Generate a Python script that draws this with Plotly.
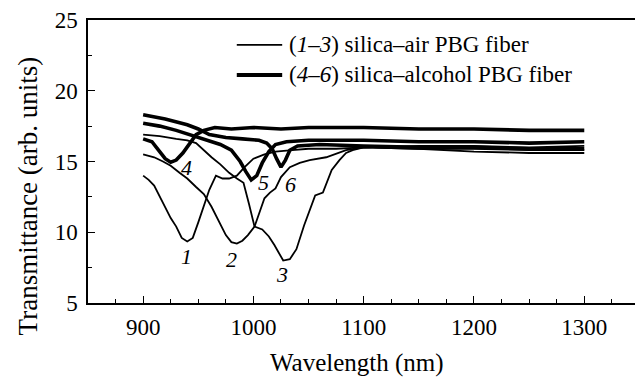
import plotly.graph_objects as go

# ---- data ----
c1_x = [900, 905, 910, 915, 920, 925, 930, 935, 940, 945, 950, 955, 960, 966, 972, 978, 985, 992, 1000, 1010, 1020, 1035, 1050, 1075, 1100, 1150, 1200, 1250, 1300]
c1_y = [14.0, 13.7, 13.3, 12.5, 11.8, 11.0, 10.4, 9.6, 9.35, 9.6, 10.7, 11.9, 13.0, 14.0, 13.8, 13.8, 14.0, 14.6, 15.2, 15.5, 15.7, 15.8, 15.9, 15.9, 16.0, 15.9, 15.9, 15.8, 15.8]

c2_x = [900, 910, 918, 925, 933, 940, 948, 955, 962, 968, 975, 980, 985, 990, 995, 1001, 1006, 1010, 1015, 1020, 1025, 1033, 1042, 1051, 1066, 1084, 1100, 1150, 1200, 1250, 1300]
c2_y = [15.5, 15.3, 15.0, 14.7, 14.2, 13.8, 13.2, 12.7, 11.8, 10.9, 9.8, 9.3, 9.2, 9.4, 9.8, 10.4, 11.6, 12.4, 12.8, 13.1, 13.9, 14.6, 14.9, 15.1, 15.3, 15.8, 16.0, 16.1, 16.1, 16.0, 16.1]

c3_x = [900, 915, 930, 940, 948, 955, 962, 970, 978, 985, 991, 996, 1001, 1008, 1014, 1019, 1023, 1027, 1033, 1039, 1046, 1051, 1056, 1063, 1071, 1078, 1084, 1090, 1100, 1150, 1200, 1250, 1300]
c3_y = [16.9, 16.8, 16.6, 16.5, 16.3, 15.8, 15.3, 14.8, 14.2, 13.8, 13.5, 12.0, 10.4, 10.2, 9.7, 9.1, 8.5, 8.0, 8.1, 8.8, 10.5, 11.5, 12.6, 12.8, 14.4, 15.1, 15.6, 15.8, 16.0, 15.9, 15.7, 15.6, 15.6]

c4_x = [900, 908, 915, 920, 925, 930, 936, 942, 948, 955, 965, 980, 1000, 1025, 1050, 1100, 1150, 1200, 1250, 1300]
c4_y = [16.6, 16.4, 15.7, 15.2, 14.95, 15.1, 15.6, 16.3, 16.9, 17.2, 17.4, 17.3, 17.4, 17.3, 17.4, 17.4, 17.3, 17.3, 17.2, 17.2]

c5_x = [900, 915, 930, 945, 958, 970, 980, 988, 993, 998, 1003, 1008, 1014, 1020, 1030, 1050, 1100, 1150, 1200, 1250, 1300]
c5_y = [17.7, 17.5, 17.2, 16.8, 16.5, 16.2, 15.8, 15.0, 14.3, 13.7, 14.0, 14.9, 15.7, 16.2, 16.4, 16.5, 16.5, 16.4, 16.4, 16.3, 16.4]

c6_x = [900, 920, 940, 950, 960, 975, 990, 1005, 1012, 1017, 1021, 1025, 1029, 1033, 1040, 1060, 1100, 1150, 1200, 1250, 1300]
c6_y = [18.3, 18.0, 17.6, 17.3, 16.9, 16.7, 16.6, 16.5, 16.3, 15.9, 15.2, 14.6, 15.1, 15.8, 16.1, 16.2, 16.1, 16.0, 16.0, 15.9, 15.9]

curve_labels = ["1", "2", "3", "4", "5", "6"]
label_x = [939.6, 980.4, 1025.7, 939.6, 1009.4, 1033.9]
label_y = [8.32, 8.04, 6.98, 14.6, 13.5, 13.4]

legend_names = ["(<i>1–3</i>) silica–air PBG fiber", "(<i>4–6</i>) silica–alcohol PBG fiber"]

x_ticks = [900, 1000, 1100, 1200, 1300]
y_ticks = [5, 10, 15, 20, 25]

FONT = "Times New Roman, Liberation Serif, serif"

fig = go.Figure()
thin = [(c1_x, c1_y), (c2_x, c2_y), (c3_x, c3_y)]
thick = [(c4_x, c4_y), (c5_x, c5_y), (c6_x, c6_y)]
for xs, ys in thin:
    fig.add_trace(go.Scatter(x=xs, y=ys, mode="lines", line=dict(color="black", width=1.8),
                             name=legend_names[0], showlegend=False))
for xs, ys in thick:
    fig.add_trace(go.Scatter(x=xs, y=ys, mode="lines", line=dict(color="black", width=3.6),
                             name=legend_names[1], showlegend=False))

for t, lx, ly in zip(curve_labels, label_x, label_y):
    fig.add_annotation(x=lx, y=ly, text=f"<i>{t}</i>", showarrow=False,
                       font=dict(family=FONT, size=22, color="black"))

# legend (key lines + labels), placed in paper coordinates
key_y = [0.912, 0.806]
key_w = [1.8, 4.0]
for name, ky, kw in zip(legend_names, key_y, key_w):
    fig.add_shape(type="line", xref="paper", yref="paper", x0=0.272, x1=0.355, y0=ky, y1=ky,
                  line=dict(color="black", width=kw))
    fig.add_annotation(xref="paper", yref="paper", x=0.366, y=ky, text=name, showarrow=False,
                       xanchor="left", yanchor="middle", borderpad=0,
                       font=dict(family=FONT, size=23, color="black"))

# axis titles
fig.add_annotation(xref="paper", yref="paper", x=-0.108, y=0.38, text="Transmittance (arb. units)",
                   textangle=-90, showarrow=False, xanchor="center", yanchor="middle",
                   font=dict(family=FONT, size=27, color="black"))
fig.add_annotation(xref="paper", yref="paper", x=0.491, y=-0.212, text="Wavelength (nm)",
                   showarrow=False, xanchor="center", yanchor="middle",
                   font=dict(family=FONT, size=25, color="black"))

fig.update_layout(
    width=635, height=377,
    margin=dict(l=88, r=0, t=20, b=74),
    paper_bgcolor="white", plot_bgcolor="white",
    font=dict(family=FONT, size=23, color="black"),
    showlegend=False,
)
fig.update_xaxes(range=[850, 1346], tickvals=x_ticks, ticks="inside", ticklen=7, tickwidth=1.3,
                 tickcolor="black", showline=True, linecolor="black", linewidth=1.5, mirror=True,
                 showgrid=False, zeroline=False, ticklabelstandoff=3,
                 minor=dict(dtick=25, tick0=850, ticks="inside", ticklen=4, tickcolor="black", tickwidth=1.2))
fig.update_yaxes(range=[5, 25], tickvals=y_ticks, ticks="inside", ticklen=7, tickwidth=1.3,
                 tickcolor="black", showline=True, linecolor="black", linewidth=1.5, mirror=False,
                 showgrid=False, zeroline=False, ticklabelstandoff=4,
                 minor=dict(dtick=2.5, tick0=5, ticks="inside", ticklen=4, tickcolor="black", tickwidth=1.2))

fig.write_html("out.html")
